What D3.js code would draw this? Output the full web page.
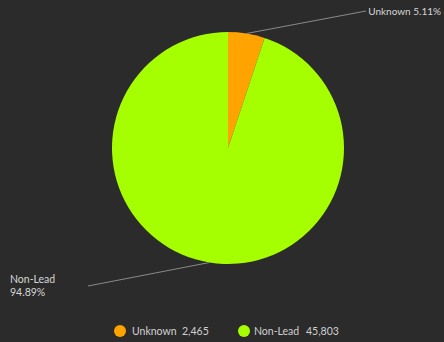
<!DOCTYPE html>
<html>
<head>
<meta charset="utf-8">
<script src="https://cdn.jsdelivr.net/npm/d3@7"></script>
<style>
  html, body { margin: 0; padding: 0; background: #2b2b2b; }
  svg { display: block; }
  text { font-family: Lato, "Noto Sans", sans-serif; }
</style>
</head>
<body>
<svg id="chart" width="444" height="342"></svg>
<script>
const categories = ["Unknown", "Non-Lead"];
const values = [2465, 45803];
const colors = ["#ffa300", "#a6ff00"];

const W = 444, H = 342;
const cx = 228, cy = 148, radius = 116;

const svg = d3.select("#chart");
svg.append("rect").attr("width", W).attr("height", H).attr("fill", "#2b2b2b");

const total = d3.sum(values);
const data = categories.map((c, i) => ({ name: c, value: values[i], color: colors[i] }));

const pie = d3.pie().value(d => d.value).sort(null);
const arcs = pie(data);
const arc = d3.arc().innerRadius(0).outerRadius(radius);

const g = svg.append("g").attr("transform", `translate(${cx},${cy})`);
g.selectAll("path.slice")
  .data(arcs)
  .join("path")
  .attr("class", "slice")
  .attr("d", arc)
  .attr("fill", d => d.data.color);

// Leader lines from arc midpoints to the outside labels
const pct = d => d3.format(".2f")(d.value / total * 100) + "%";
const edge = a => {
  const m = (a.startAngle + a.endAngle) / 2;
  return [cx + Math.sin(m) * radius, cy - Math.cos(m) * radius];
};

const labelEnds = [[366, 11], [88, 286]];
arcs.forEach((a, i) => {
  const [x0, y0] = edge(a);
  const [x1, y1] = labelEnds[i];
  svg.append("line")
    .attr("x1", x0).attr("y1", y0).attr("x2", x1).attr("y2", y1)
    .attr("stroke", "#8a8a8a").attr("stroke-width", 1);
});

// Unknown label (single line, right-aligned to the edge)
svg.append("text")
  .attr("x", 441).attr("y", 15)
  .attr("text-anchor", "end")
  .attr("fill", "#d6d6d6").attr("font-size", 10)
  .text(`${data[0].name} ${pct(data[0])}`);

// Non-Lead label (two lines, left side)
const t2 = svg.append("text").attr("fill", "#d6d6d6").attr("font-size", 10.5);
t2.append("tspan").attr("x", 10).attr("y", 283).text(data[1].name);
t2.append("tspan").attr("x", 10).attr("y", 296).text(pct(data[1]));

// Legend
const legend = [
  { cx: 120, tx: 132, vx: 182 },
  { cx: 244, tx: 254, vx: 306 }
];
const fmt = d3.format(",");
data.forEach((d, i) => {
  const L = legend[i];
  svg.append("circle").attr("cx", L.cx).attr("cy", 331).attr("r", 6).attr("fill", d.color);
  svg.append("text").attr("x", L.tx).attr("y", 335)
    .attr("fill", "#d0d0d0").attr("font-size", 10.5).text(d.name);
  svg.append("text").attr("x", L.vx).attr("y", 335)
    .attr("fill", "#d0d0d0").attr("font-size", 10.5).text(fmt(d.value));
});
</script>
</body>
</html>
